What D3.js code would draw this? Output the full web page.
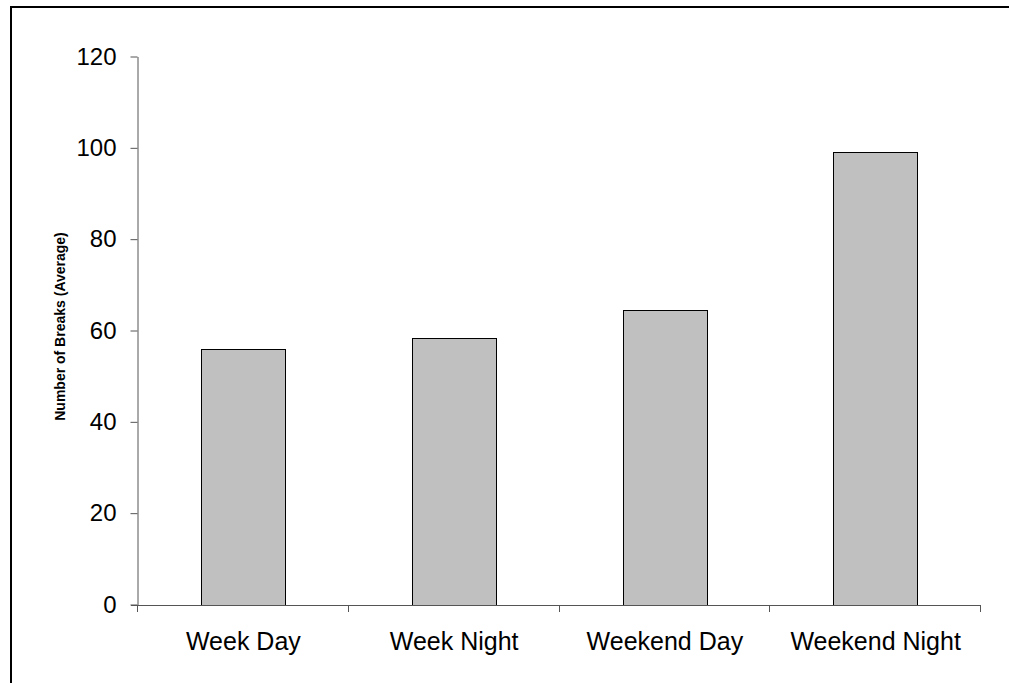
<!DOCTYPE html>
<html>
<head>
<meta charset="utf-8">
<script src="https://cdn.jsdelivr.net/npm/d3@7"></script>
<style>
  html, body { margin: 0; padding: 0; background: #fff; overflow: hidden; }
  svg { display: block; }
  text { font-family: "Liberation Sans", Arial, sans-serif; fill: #000; }
</style>
</head>
<body>
<svg id="chart" width="1009" height="683"></svg>
<script>
// Average number of breaks per period
const categories = ["Week Day", "Week Night", "Weekend Day", "Weekend Night"];
const values = [55.9, 58.4, 64.4, 99.0];
const yTicks = [0, 20, 40, 60, 80, 100, 120];
const yTitle = "Number of Breaks (Average)";

const svg = d3.select("#chart");
const W = 1009, H = 683;
const plot = { left: 138, right: 981, top: 56.5, bottom: 604.5 };

// outer frame (top and left edges fall inside the canvas)
svg.append("path")
  .attr("d", `M11,${H} L11,7 L${W},7`)
  .attr("fill", "none").attr("stroke", "#000").attr("stroke-width", 2);

const x = d3.scaleBand()
  .domain(categories)
  .range([plot.left, plot.right])
  .paddingInner(0.6)
  .paddingOuter(0.3);

const y = d3.scaleLinear()
  .domain([0, 120])
  .range([plot.bottom, plot.top]);

// bars
svg.append("g").selectAll("rect")
  .data(categories)
  .join("rect")
  .attr("x", d => Math.round(x(d)) + 0.5)
  .attr("y", (d, i) => Math.round(y(values[i])) + 0.5)
  .attr("width", Math.round(x.bandwidth()))
  .attr("height", (d, i) => Math.round(y(0)) - Math.round(y(values[i])))
  .attr("fill", "#C0C0C0")
  .attr("stroke", "#000")
  .attr("stroke-width", 1);

// y axis
const yAxis = svg.append("g")
  .attr("transform", `translate(${plot.left - 0.5},0)`)
  .call(d3.axisLeft(y).tickValues(yTicks).tickSize(7).tickPadding(14).tickSizeOuter(0));
yAxis.select(".domain").attr("stroke", "#555");
yAxis.selectAll(".tick line").attr("stroke", "#555");
yAxis.selectAll(".tick text")
  .attr("font-size", 24)
  .attr("font-family", "Liberation Sans, Arial, sans-serif")
  .attr("fill", "#000");

// x axis: line with tick marks at category boundaries
const boundaries = d3.range(categories.length + 1).map(i => plot.left + i * (plot.right - plot.left) / categories.length);
const xg = svg.append("g");
xg.append("line")
  .attr("x1", plot.left - 7).attr("x2", plot.right)
  .attr("y1", Math.round(y(0)) + 0.5).attr("y2", Math.round(y(0)) + 0.5)
  .attr("stroke", "#555");
xg.selectAll("line.tick")
  .data(boundaries)
  .join("line")
  .attr("class", "tick")
  .attr("x1", d => Math.round(d) - 0.5).attr("x2", d => Math.round(d) - 0.5)
  .attr("y1", Math.round(y(0)) + 0.5).attr("y2", Math.round(y(0)) + 7)
  .attr("stroke", "#555");
xg.selectAll("text")
  .data(categories)
  .join("text")
  .attr("x", d => x(d) + x.bandwidth() / 2)
  .attr("y", 650)
  .attr("text-anchor", "middle")
  .attr("font-size", 25)
  .text(d => d);

// y axis title
svg.append("text")
  .attr("transform", `translate(65,${(plot.top + plot.bottom) / 2 - 4}) rotate(-90)`)
  .attr("text-anchor", "middle")
  .attr("font-size", 14)
  .attr("font-weight", "bold")
  .text(yTitle);
</script>
</body>
</html>
